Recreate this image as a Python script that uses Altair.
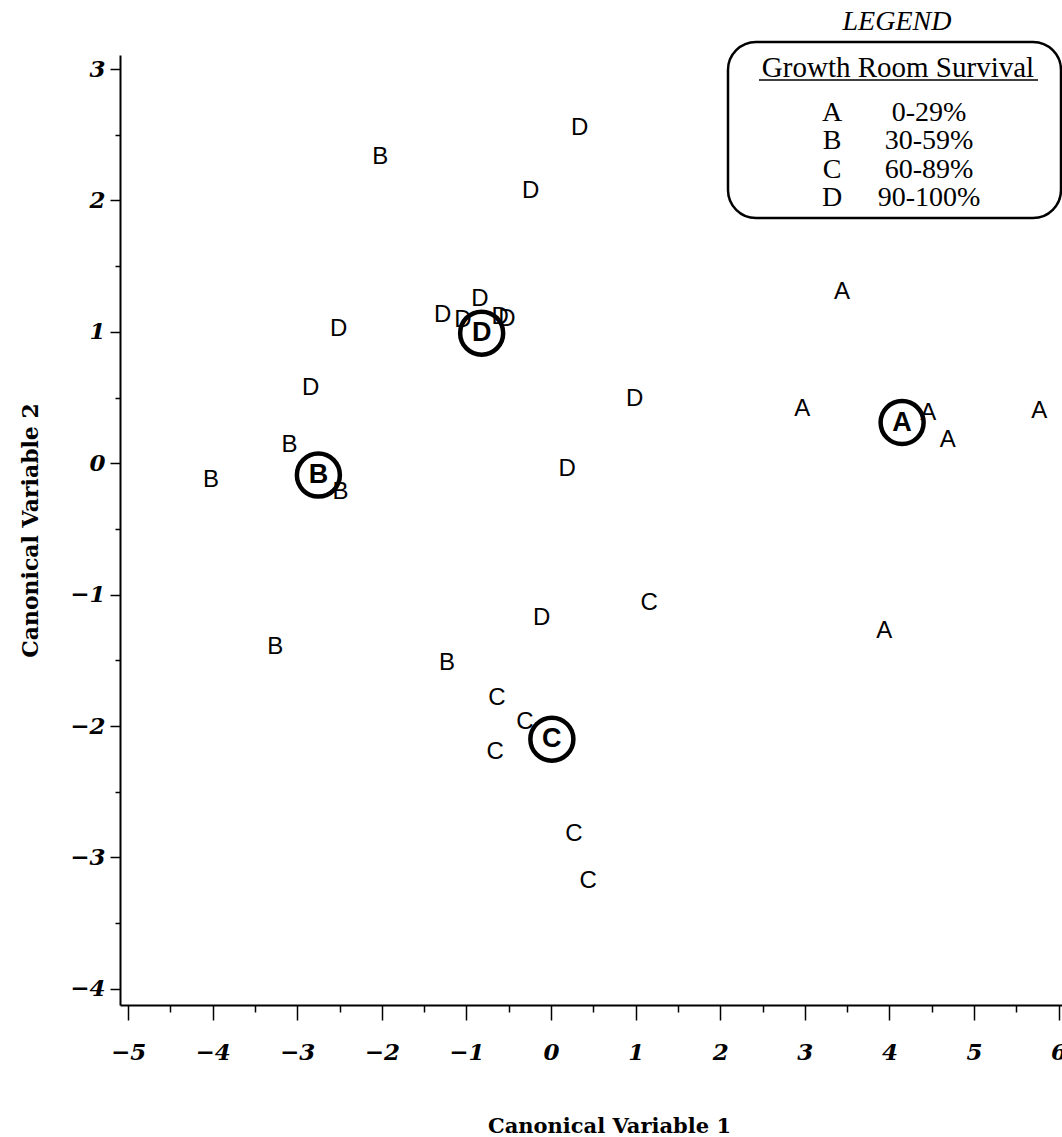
import altair as alt
import pandas as pd

# Canonical discriminant scores, one letter per seed source, by survival class
groups = ["A", "B", "C", "D"]
ranges = ["0-29%", "30-59%", "60-89%", "90-100%"]

a_x = [3.44, 2.97, 4.46, 4.69, 5.77, 3.94]
a_y = [1.30, 0.41, 0.38, 0.18, 0.40, -1.28]
b_x = [-2.02, -3.09, -2.49, -4.02, -3.26, -1.23]
b_y = [2.33, 0.14, -0.22, -0.13, -1.40, -1.52]
c_x = [1.16, -0.64, -0.31, -0.66, 0.27, 0.44]
c_y = [-1.06, -1.79, -1.97, -2.20, -2.82, -3.18]
d_x = [0.34, -0.24, -0.84, -1.28, -1.04, -0.60, -0.52, -2.51, -2.84, 0.99, 0.19, -0.11]
d_y = [2.55, 2.07, 1.25, 1.13, 1.09, 1.11, 1.10, 1.02, 0.57, 0.49, -0.04, -1.18]

# Class means (circled)
mean_x = [4.15, -2.75, 0.01, -0.82]
mean_y = [0.31, -0.09, -2.10, 0.99]

x_ticks = [v / 2 for v in range(-10, 13)]
y_ticks = [v / 2 for v in range(-8, 7)]

pts = pd.concat([
    pd.DataFrame({"cv1": xs, "cv2": ys, "grp": g})
    for g, xs, ys in zip(groups, [a_x, b_x, c_x, d_x], [a_y, b_y, c_y, d_y])
])
means = pd.DataFrame({"cv1": mean_x, "cv2": mean_y, "grp": groups})

W, H = 942, 950
x_scale = alt.Scale(domain=[-5.095, 6.04], nice=False, zero=False)
y_scale = alt.Scale(domain=[-4.123, 3.107], nice=False, zero=False)

tick_font = "DejaVu Serif"
x_axis = alt.Axis(
    values=x_ticks,
    labelExpr="datum.value % 1 === 0 ? format(datum.value, 'd') : ''",
    tickSize={"condition": {"test": "datum.value % 1 === 0", "value": 15}, "value": 7},
    labelFont=tick_font, labelFontStyle="italic", labelFontWeight="bold",
    labelFontSize=23, labelColor="black",
    labelPadding=21, labelFlush=False, labelOverlap=False,
    title="Canonical Variable 1", titleFont=tick_font, titleFontWeight="bold",
    titleFontSize=21, titleColor="black", titleX=489, titleY=127,
    titleBaseline="alphabetic", titleAnchor="middle",
    grid=False, domainColor="black", domainWidth=2, tickColor="black", tickWidth=1.5,
)
y_axis = alt.Axis(
    values=y_ticks,
    labelExpr="datum.value % 1 === 0 ? format(datum.value, 'd') : ''",
    tickSize={"condition": {"test": "datum.value % 1 === 0", "value": 10}, "value": 5},
    labelFont=tick_font, labelFontStyle="italic", labelFontWeight="bold",
    labelFontSize=23, labelColor="black",
    labelPadding=5, labelFlush=False, labelOverlap=False,
    title="Canonical Variable 2", titleFont=tick_font, titleFontWeight="bold",
    titleFontSize=22, titleColor="black", titleAngle=270, titleX=-90,
    titleBaseline="middle", titleAnchor="middle",
    grid=False, domainColor="black", domainWidth=2, tickColor="black", tickWidth=1.5,
)

letters = alt.Chart(pts).mark_text(
    font="Liberation Sans", fontSize=24, color="black", baseline="middle", align="center"
).encode(
    x=alt.X("cv1:Q", scale=x_scale, axis=x_axis),
    y=alt.Y("cv2:Q", scale=y_scale, axis=y_axis),
    text="grp:N",
)

mean_rings = alt.Chart(means).mark_point(
    shape="circle", size=1850, filled=False, color="black", strokeWidth=4.5, opacity=1
).encode(x=alt.X("cv1:Q", scale=x_scale), y=alt.Y("cv2:Q", scale=y_scale))

mean_letters = alt.Chart(means).mark_text(
    font="Liberation Sans", fontSize=27, fontWeight="bold", color="black",
    baseline="middle", align="center"
).encode(x=alt.X("cv1:Q", scale=x_scale), y=alt.Y("cv2:Q", scale=y_scale), text="grp:N")

# Legend box drawn in the top-right corner of the plot
one = pd.DataFrame({"k": [0]})
legend_box = alt.Chart(one).mark_rect(
    fill="white", stroke="black", strokeWidth=2.5, cornerRadius=28
).encode(x=alt.value(608), x2=alt.value(941), y=alt.value(-13), y2=alt.value(163))

legend_head = alt.Chart(pd.DataFrame({"t": ["LEGEND"]})).mark_text(
    font="Liberation Serif", fontStyle="italic", fontSize=28, color="black",
    align="center", baseline="middle"
).encode(x=alt.value(777), y=alt.value(-33), text="t:N")

legend_title = alt.Chart(pd.DataFrame({"t": ["Growth Room Survival"]})).mark_text(
    font="Liberation Serif", fontSize=29, color="black", align="center", baseline="alphabetic"
).encode(x=alt.value(778), y=alt.value(22), text="t:N")

legend_underline = alt.Chart(one).mark_rule(color="black", strokeWidth=1.5).encode(
    x=alt.value(639), x2=alt.value(918), y=alt.value(25)
)

rows = []
for i, (g, r) in enumerate(zip(groups, ranges)):
    ypix = 58 + 28.3 * i
    rows.append(
        alt.Chart(pd.DataFrame({"t": [g]})).mark_text(
            font="Liberation Serif", fontSize=28, color="black", align="center", baseline="middle"
        ).encode(x=alt.value(712), y=alt.value(ypix), text="t:N")
    )
    rows.append(
        alt.Chart(pd.DataFrame({"t": [r]})).mark_text(
            font="Liberation Serif", fontSize=28, color="black", align="center", baseline="middle"
        ).encode(x=alt.value(809), y=alt.value(ypix), text="t:N")
    )

chart = alt.layer(
    letters, mean_rings, mean_letters,
    legend_box, legend_head, legend_title, legend_underline, *rows
).properties(
    width=W, height=H,
    autosize=alt.AutoSizeParams(type="none"),
    padding={"left": 120, "top": 55, "right": 0, "bottom": 132},
    background="white",
).configure_view(stroke=None, clip=False)

chart.save("out.html", embed_options={"renderer": "svg", "actions": False})
